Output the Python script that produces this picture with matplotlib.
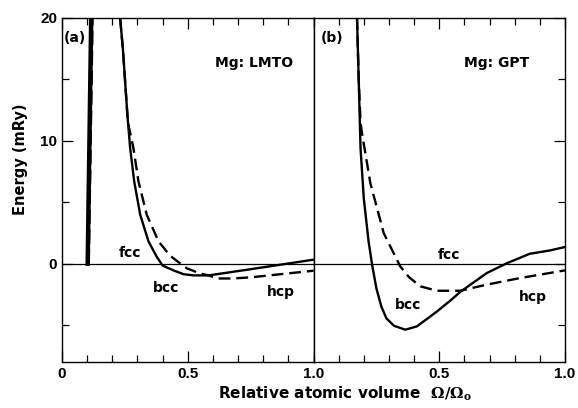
import numpy as np
import matplotlib
matplotlib.use("Agg")
import matplotlib.pyplot as plt
from matplotlib.ticker import MultipleLocator

plt.rcParams['font.family'] = ['DejaVu Sans']
plt.rcParams['font.weight'] = 'bold'
plt.rcParams['mathtext.fontset'] = 'dejavuserif'

# panel (a): LMTO
a_steep_bcc_x = [0.102, 0.116]
a_steep_bcc_y = [0.0, 20.0]
a_steep_hcp_x = [0.104, 0.119]
a_steep_hcp_y = [0.0, 20.0]
a_bcc_x = [0.231, 0.242, 0.251, 0.260, 0.271, 0.287, 0.311, 0.344, 0.377, 0.40, 0.444, 0.483,
           0.523, 0.583, 0.749, 1.0]
a_bcc_y = [20.0, 17.5, 14.8, 12.1, 9.4, 6.7, 3.98, 1.81, 0.55, -0.15, -0.55, -0.85,
           -0.95, -0.95, -0.45, 0.33]
a_hcp_x = [0.231, 0.242, 0.251, 0.262, 0.284, 0.304, 0.337, 0.384, 0.43, 0.468, 0.497,
           0.55, 0.583, 0.616, 0.68, 0.749, 1.0]
a_hcp_y = [20.0, 17.5, 14.8, 11.5, 9.4, 6.7, 3.98, 1.81, 0.65, 0.05, -0.38,
           -0.8, -0.95, -1.2, -1.2, -1.11, -0.57]

# panel (b): GPT
b_bcc_x = [0.173, 0.180, 0.187, 0.200, 0.219, 0.233, 0.250, 0.270, 0.290, 0.320, 0.365,
           0.411, 0.490, 0.544, 0.583, 0.689, 0.770, 0.860, 0.940, 1.0]
b_bcc_y = [20.0, 14.8, 9.4, 5.3, 1.81, -0.08, -2.0, -3.5, -4.45, -5.05, -5.37,
           -5.1, -3.9, -3.0, -2.3, -0.76, 0.05, 0.81, 1.08, 1.36]
b_hcp_x = [0.173, 0.180, 0.187, 0.193, 0.226, 0.279, 0.345, 0.380, 0.425, 0.490, 0.583,
           0.689, 0.821, 1.0]
b_hcp_y = [20.0, 14.8, 11.5, 10.6, 6.56, 2.5, -0.22, -1.1, -1.84, -2.2, -2.2,
           -1.7, -1.17, -0.54]

fig = plt.figure(figsize=(5.78, 4.08), dpi=100)
ax1 = fig.add_axes([0.1073, 0.1127, 0.4351, 0.8432])
ax2 = fig.add_axes([0.5424, 0.1127, 0.4351, 0.8432])

dash = (5, 2.5)
for ax in (ax1, ax2):
    ax.set_xlim(0, 1.0)
    ax.set_ylim(-8, 20)
    ax.axhline(0, color='black', lw=0.9)
    ax.xaxis.set_major_locator(MultipleLocator(0.5))
    ax.xaxis.set_minor_locator(MultipleLocator(0.1))
    ax.yaxis.set_major_locator(MultipleLocator(10))
    ax.yaxis.set_minor_locator(MultipleLocator(5))
    ax.tick_params(which='both', direction='in', top=True, labelsize=10)
    ax.tick_params(which='major', length=8, width=0.9)
    ax.tick_params(which='minor', length=5, width=0.9)
    for s in ax.spines.values():
        s.set_linewidth(1.0)

ax1.plot(a_steep_bcc_x, a_steep_bcc_y, color='black', lw=3.2)
ax1.plot(a_steep_hcp_x, a_steep_hcp_y, color='black', lw=2.6, dashes=(4, 1.5))
ax1.plot(a_bcc_x, a_bcc_y, color='black', lw=1.7)
ax1.plot(a_hcp_x, a_hcp_y, color='black', lw=1.7, dashes=dash)
ax1.tick_params(which='both', right=False)
ax1.set_xticks([0, 0.5, 1.0])
ax1.set_xticklabels(['0', '0.5', '1.0'], fontfamily='Liberation Sans', fontsize=11)
ax1.set_yticks([0, 10, 20])
ax1.set_yticklabels(['0', '10', '20'], fontfamily='Liberation Sans', fontsize=11)

ax2.plot(b_bcc_x, b_bcc_y, color='black', lw=1.7)
ax2.plot(b_hcp_x, b_hcp_y, color='black', lw=1.7, dashes=dash)
ax2.tick_params(which='both', left=False, right=True, labelleft=False)
ax2.set_xticks([0.5, 1.0])
ax2.set_xticklabels(['0.5', '1.0'], fontfamily='Liberation Sans', fontsize=11)

ax1.text(0.052, 18.4, '(a)', fontsize=10, ha='center', va='center')
ax1.text(0.765, 16.3, 'Mg: LMTO', fontsize=10, ha='center', va='center')
ax1.text(0.27, 0.9, 'fcc', fontsize=10, ha='center', va='center')
ax1.text(0.414, -2.0, 'bcc', fontsize=10, ha='center', va='center')
ax1.text(0.87, -2.3, 'hcp', fontsize=10, ha='center', va='center')

ax2.text(0.075, 18.4, '(b)', fontsize=10, ha='center', va='center')
ax2.text(0.73, 16.3, 'Mg: GPT', fontsize=10, ha='center', va='center')
ax2.text(0.54, 0.75, 'fcc', fontsize=10, ha='center', va='center')
ax2.text(0.377, -3.4, 'bcc', fontsize=10, ha='center', va='center')
ax2.text(0.873, -2.7, 'hcp', fontsize=10, ha='center', va='center')

fig.text(0.035, 0.61, 'Energy (mRy)', fontsize=10.5, fontweight='bold',
         rotation=90, ha='center', va='center')
fig.text(0.377, 0.012, r'Relative atomic volume  $\Omega/\Omega_{\rm o}$',
         fontsize=11, fontweight='bold', ha='left', va='bottom')

fig.savefig('out.png', dpi=100)
